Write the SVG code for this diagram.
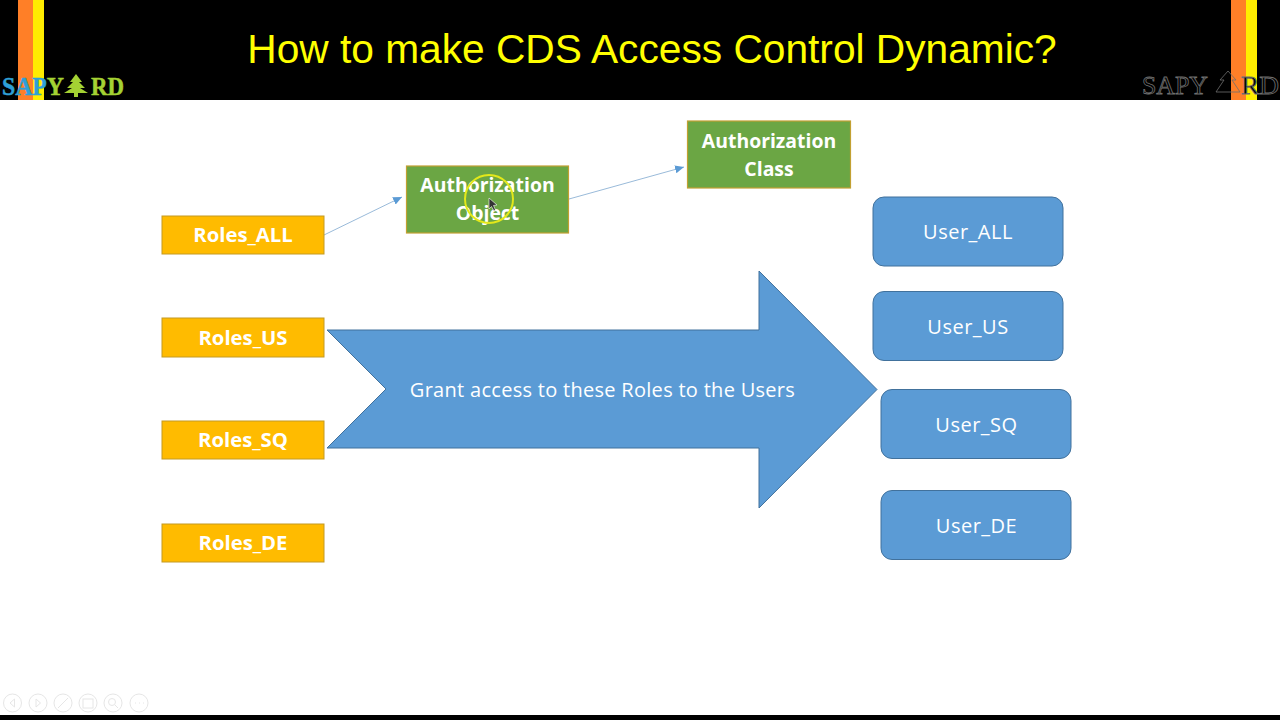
<svg xmlns="http://www.w3.org/2000/svg" width="1280" height="720" viewBox="0 0 1280 720">
<style>
.role{fill:#ffbb00;stroke:#c49a22;stroke-width:1}
.green{fill:#6ba644;stroke:#c2a032;stroke-width:1.2}
.user{fill:#5b9bd5;stroke:#41719c;stroke-width:1}
.t{font-family:"Open Sans","Noto Sans",sans-serif;fill:#fff;text-anchor:middle}
.b{font-size:20.300px;font-weight:700}
.a{font-size:19.400px;font-weight:700}
.n{font-size:20px;letter-spacing:.5px}
.g{font-size:20px;letter-spacing:.29px}
.conn{stroke:#7fa8cf;stroke-width:.8;fill:none;marker-end:url(#ah)}
.ui{fill:none;stroke:#e6e6e6;stroke-width:1}
</style>
<defs>
<marker id="ah" markerUnits="userSpaceOnUse" markerWidth="10" markerHeight="8" refX="9" refY="4" orient="auto"><path d="M0 0L9 4L0 8Z" fill="#5b9bd5"/></marker>
<linearGradient id="logoFill" gradientUnits="userSpaceOnUse" x1="2" y1="0" x2="64" y2="0"><stop offset="0.730" stop-color="#2e9fd8"/><stop offset="0.730" stop-color="#a4d233"/></linearGradient>
</defs>
<rect width="1280" height="720" fill="#fff"/>
<g id="header">
<rect width="1280" height="100" fill="#000"/>
<rect x="18" width="15" height="100" fill="#ff7f27"/>
<rect x="33" width="11" height="100" fill="#ffed00"/>
<rect x="1231" width="15" height="100" fill="#ff7f27"/>
<rect x="1246" width="11" height="100" fill="#ffed00"/>
<text x="652" y="63" font-family="'Liberation Sans',Arial,sans-serif" font-size="40.700" fill="#ffff00" text-anchor="middle">How to make CDS Access Control Dynamic?</text>
</g>
<g id="logo-left" font-family="'Liberation Serif',serif" font-size="26" font-weight="700" stroke-width=".5">
<text x="2" y="95" fill="url(#logoFill)" stroke="url(#logoFill)" textLength="62" lengthAdjust="spacingAndGlyphs">SAPY</text>
<polygon points="76,74 82,82 79,82 85,88 80,88 88,93 78,93 78,97 74,97 74,93 64,93 72,88 67,88 73,82 70,82" fill="#a4d233"/>
<text x="91" y="95" fill="#a4d233" stroke="#a4d233" textLength="33" lengthAdjust="spacingAndGlyphs">RD</text>
</g>
<g id="logo-right" font-family="'Liberation Serif',serif" font-size="25" fill="#000" stroke="#6e6e6e" stroke-width=".8">
<text x="1142" y="94" textLength="66" lengthAdjust="spacingAndGlyphs">SAPY</text>
<polygon points="1228,71 1236,80 1232,80 1240,92 1216,92 1224,80 1220,80" fill="none"/>
<text x="1241" y="94" textLength="38" lengthAdjust="spacingAndGlyphs">RD</text>
</g>
<g id="connectors">
<line class="conn" x1="324" y1="235" x2="402" y2="197"/>
<line class="conn" x1="569" y1="199" x2="684" y2="167"/>
</g>
<g id="big-arrow">
<polygon points="327,330 759,330 759,271 877,389.500 759,508 759,448 327,448 386,389" fill="#5b9bd5" stroke="#41719c" stroke-width="1"/>
<text class="t g" x="602.500" y="397">Grant access to these Roles to the Users</text>
</g>
<g id="role-all"><rect class="role" x="162" y="216" width="162" height="38"/><text class="t b" x="243" y="242">Roles_ALL</text></g>
<g id="role-us"><rect class="role" x="162" y="318" width="162" height="39"/><text class="t b" x="243" y="345">Roles_US</text></g>
<g id="role-sq"><rect class="role" x="162" y="421" width="162" height="38"/><text class="t b" x="243" y="447">Roles_SQ</text></g>
<g id="role-de"><rect class="role" x="162" y="524" width="162" height="38"/><text class="t b" x="243" y="550">Roles_DE</text></g>
<g id="auth-object"><rect class="green" x="406.500" y="166" width="162" height="67"/><text class="t a" x="487.500" y="192">Authorization</text><text class="t a" x="487.500" y="220">Object</text></g>
<g id="auth-class"><rect class="green" x="687.500" y="121" width="163" height="67"/><text class="t a" x="769" y="148">Authorization</text><text class="t a" x="769" y="176">Class</text></g>
<g id="user-all"><rect class="user" x="873" y="197" width="190" height="69" rx="11"/><text class="t n" x="968" y="239">User_ALL</text></g>
<g id="user-us"><rect class="user" x="873" y="291.500" width="190" height="69" rx="11"/><text class="t n" x="968" y="334">User_US</text></g>
<g id="user-sq"><rect class="user" x="881" y="389.500" width="190" height="69" rx="11"/><text class="t n" x="976.500" y="432">User_SQ</text></g>
<g id="user-de"><rect class="user" x="881" y="490.500" width="190" height="69" rx="11"/><text class="t n" x="976.500" y="533">User_DE</text></g>
<g id="cursor">
<circle cx="489" cy="199" r="24" fill="none" stroke="#e3e81a" stroke-width="2"/>
<path d="M489 198L489 209L491.500 206.500L494 211L495.500 210L493.500 205.500L497 205Z" fill="#333" stroke="#fff" stroke-width=".6"/>
</g>
<g id="slide-controls">
<circle class="ui" cx="12.500" cy="703" r="9"/><path class="ui" d="M14.500 699L10 703L14.500 707Z"/>
<circle class="ui" cx="38" cy="703" r="9"/><path class="ui" d="M36 699L40.500 703L36 707Z"/>
<circle class="ui" cx="63" cy="703" r="9"/><path class="ui" d="M58 708L68 698"/>
<circle class="ui" cx="88" cy="703" r="9"/><rect class="ui" x="83" y="699" width="10" height="9"/>
<circle class="ui" cx="113" cy="703" r="9"/><circle class="ui" cx="112" cy="702" r="3.500"/><path class="ui" d="M115 705L118 708"/>
<circle class="ui" cx="139" cy="703" r="9"/><path class="ui" d="M135 703h1M139 703h1M143 703h1"/>
</g>
<rect id="bottom-bar" y="715" width="1280" height="5" fill="#000"/>
</svg>
